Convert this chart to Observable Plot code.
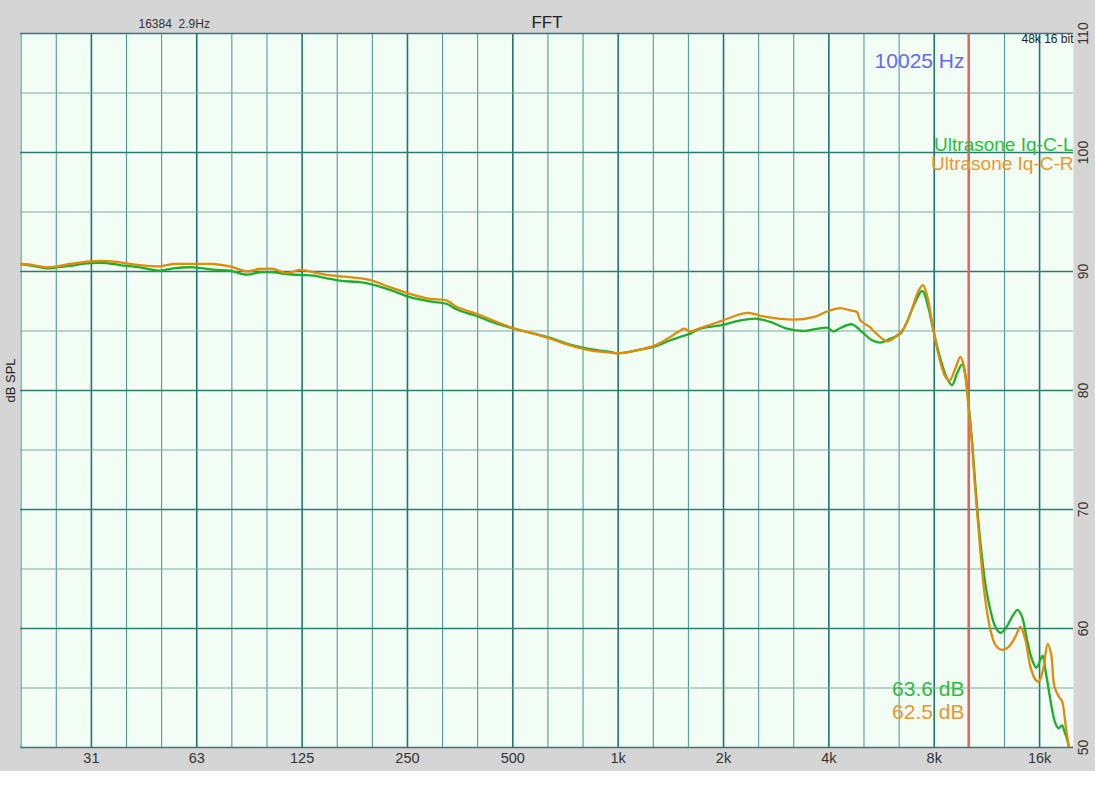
<!DOCTYPE html>
<html><head><meta charset="utf-8">
<script src="https://cdn.jsdelivr.net/npm/d3@7"></script>
<script src="https://cdn.jsdelivr.net/npm/@observablehq/plot@0.6"></script>
<style>
html,body{margin:0;padding:0;background:#fff;}
#chart svg{display:block;}
</style></head><body><div id="chart"></div>
<script>
// Frequency (Hz) and level (dB SPL) of the left channel (green)
const freqL = [19.6, 21.3, 23.2, 24.9, 27.1, 31.0, 34.5, 37.7, 43.0, 49.0, 53.5, 61.1, 69.7, 77.7, 86.7, 94.7, 103.5, 113, 123, 135, 147, 160, 183, 195, 223, 254, 290, 324, 346, 394, 450, 513, 560, 639, 729, 832, 949, 992, 1131, 1290, 1408, 1504, 1606, 1716, 1957, 2233, 2492, 2720, 3036, 3387, 3951, 4126, 4312, 4657, 4974, 5312, 5611, 5992, 6400, 6689, 6986, 7301, 7380, 7461, 7711, 7968, 8328, 8704, 8995, 9296, 9607, 9818, 10033, 10260, 10485, 10716, 10958, 11199, 11575, 11962, 12361, 12774, 13351, 13851, 14258, 14734, 15228, 15666, 16084, 16329, 16622, 16986, 17371, 17752, 18143, 18554, 18837, 19176, 19400];
const splL = [90.63, 90.48, 90.27, 90.35, 90.48, 90.71, 90.71, 90.54, 90.35, 90.07, 90.27, 90.35, 90.15, 90.07, 89.73, 89.93, 89.93, 89.79, 89.71, 89.65, 89.43, 89.23, 89.10, 88.96, 88.45, 87.84, 87.48, 87.28, 86.81, 86.26, 85.61, 85.14, 84.86, 84.42, 83.86, 83.47, 83.25, 83.13, 83.38, 83.75, 84.22, 84.50, 84.78, 85.20, 85.47, 85.89, 86.03, 85.76, 85.20, 85.00, 85.28, 84.97, 85.25, 85.56, 84.92, 84.22, 84.03, 84.36, 84.78, 85.78, 87.14, 88.26, 88.37, 88.26, 86.87, 84.95, 82.69, 81.02, 80.46, 81.44, 82.19, 81.29, 78.79, 75.76, 72.08, 68.74, 65.98, 63.75, 61.56, 60.14, 59.64, 59.98, 60.98, 61.56, 60.98, 59.05, 57.38, 56.71, 57.38, 57.71, 56.54, 54.87, 53.20, 52.03, 51.61, 51.86, 51.36, 50.69, 50.0];

// Right channel (orange)
const freqR = [19.6, 21.3, 23.2, 24.9, 27.1, 31.0, 34.5, 37.7, 43.0, 49.0, 53.5, 61.1, 69.7, 77.7, 86.7, 94.7, 103.5, 113, 123, 135, 147, 160, 171, 195, 223, 254, 290, 324, 346, 394, 450, 513, 560, 639, 729, 832, 949, 992, 1131, 1290, 1408, 1504, 1544, 1606, 1716, 1957, 2333, 2602, 3171, 3617, 3951, 4312, 4605, 4813, 4918, 5253, 5369, 5864, 6193, 6541, 6913, 7220, 7432, 7630, 7886, 8234, 8607, 8853, 9193, 9501, 9710, 9929, 10033, 10260, 10485, 10716, 10958, 11199, 11575, 11962, 12498, 13056, 13644, 14100, 14570, 15058, 15565, 15906, 16372, 16875, 17257, 17637, 18143, 18554, 18962, 19251, 19450, 19900];
const splR = [90.63, 90.54, 90.35, 90.43, 90.63, 90.85, 90.88, 90.77, 90.54, 90.43, 90.63, 90.63, 90.63, 90.43, 90.02, 90.21, 90.21, 89.87, 90.13, 89.93, 89.71, 89.60, 89.52, 89.29, 88.68, 88.12, 87.70, 87.56, 87.01, 86.45, 85.76, 85.14, 84.86, 84.36, 83.80, 83.38, 83.19, 83.13, 83.38, 83.86, 84.50, 85.05, 85.20, 84.97, 85.25, 85.81, 86.53, 86.22, 85.95, 86.17, 86.64, 86.93, 86.73, 86.59, 85.89, 85.30, 85.00, 84.14, 84.50, 85.20, 86.87, 88.40, 88.85, 87.98, 85.76, 82.97, 81.16, 80.83, 81.85, 82.83, 82.13, 79.91, 78.51, 75.42, 71.58, 68.24, 64.90, 62.39, 59.89, 58.63, 58.21, 58.46, 59.30, 60.14, 59.05, 56.80, 55.71, 55.54, 56.54, 58.71, 57.88, 55.12, 54.29, 53.87, 52.03, 50.69, 50.0, 50.0];

const seriesNames = ["Ultrasone Iq-C-L", "Ultrasone Iq-C-R"];
const readouts = ["63.6 dB", "62.5 dB"];
const cursorHz = 10025;
const cursorLabel = "10025 Hz";

const xTickValues = [31.25, 62.5, 125, 250, 500, 1000, 2000, 4000, 8000, 16000];
const xTickLabels = ["31", "63", "125", "250", "500", "1k", "2k", "4k", "8k", "16k"];
const yTickValues = [50, 60, 70, 80, 90, 100, 110];
const yMinorValues = [55, 65, 75, 85, 95, 105];
// third-octave grid between the octave lines
const xMinorValues = d3.range(-17, 12).filter(k => k % 3 !== 0).map(k => 1000 * Math.pow(2, k / 3));

const dataL = freqL.map((f, i) => ({f, db: splL[i]}));
const dataR = freqR.map((f, i) => ({f, db: splR[i]}));
const xTicks = xTickValues.map((f, i) => ({f, label: xTickLabels[i]}));

const green = "#1fae2b", orange = "#e08b0c";
const greenText = "#2dbd3b", orangeText = "#e8982e";

const chart = Plot.plot({
  width: 1095,
  height: 771,
  marginLeft: 20,
  marginRight: 22,
  marginTop: 33,
  marginBottom: 24,
  style: {background: "#d5d5d5", fontFamily: "'Liberation Sans', Arial, sans-serif", color: "#333"},
  x: {type: "log", domain: [19.6, 20000], axis: null},
  y: {domain: [50, 110], axis: null},
  marks: [
    Plot.frame({fill: "#f2fdf6", stroke: "none"}),
    Plot.ruleX(xMinorValues, {stroke: "#4a928a", strokeWidth: 1}),
    Plot.ruleX(xTickValues, {stroke: "#23746a", strokeWidth: 1.6}),
    Plot.ruleY(yMinorValues, {stroke: "#7ba9a2", strokeWidth: 1}),
    Plot.ruleY(yTickValues, {stroke: "#2f7b72", strokeWidth: 1.6}),
    Plot.ruleX([cursorHz], {stroke: "#e8625c", strokeWidth: 2.2}),
    Plot.line(dataL, {x: "f", y: "db", stroke: green, strokeWidth: 2.3, curve: "catmull-rom", clip: true}),
    Plot.line(dataR, {x: "f", y: "db", stroke: orange, strokeWidth: 2.3, curve: "catmull-rom", clip: true}),
    Plot.text(xTicks, {x: "f", text: "label", frameAnchor: "bottom", dy: 15.5, fontSize: 14.5, fill: "#333"}),
    Plot.text(yTickValues, {y: d => d, frameAnchor: "right", dx: 10, rotate: -90, textAnchor: "middle", lineAnchor: "middle", fontSize: 14, fill: "#333", text: d => String(d)}),
    Plot.text(["dB SPL"], {frameAnchor: "left", dx: -10, dy: -10, rotate: -90, textAnchor: "middle", lineAnchor: "middle", fontSize: 13, fill: "#222"}),
    Plot.text(["FFT"], {frameAnchor: "top", dy: -18, fontSize: 17, fill: "#222"}),
    Plot.text(["16384\u00a0\u00a02.9Hz"], {frameAnchor: "top-left", dx: 118, dy: -14, textAnchor: "start", fontSize: 12, fill: "#333"}),
    Plot.text(["48k 16 bit"], {frameAnchor: "top-right", dy: 1, textAnchor: "end", fontSize: 12, fill: "#222"}),
    Plot.text([cursorHz], {x: d => d, frameAnchor: "top", dx: -4, dy: 19.5, textAnchor: "end", fontSize: 21, fill: "#6767f0", text: () => cursorLabel}),
    Plot.text([seriesNames[0]], {frameAnchor: "top-right", dy: 103.7, textAnchor: "end", fontSize: 19, fill: greenText}),
    Plot.text([seriesNames[1]], {frameAnchor: "top-right", dy: 122.9, textAnchor: "end", fontSize: 19, fill: orangeText}),
    Plot.text([cursorHz], {x: d => d, frameAnchor: "bottom", dx: -4, dy: -51.5, textAnchor: "end", fontSize: 21, fill: greenText, text: () => readouts[0]}),
    Plot.text([cursorHz], {x: d => d, frameAnchor: "bottom", dx: -4, dy: -29, textAnchor: "end", fontSize: 21, fill: orangeText, text: () => readouts[1]})
  ]
});
document.getElementById("chart").appendChild(chart);
</script>
</body></html>
